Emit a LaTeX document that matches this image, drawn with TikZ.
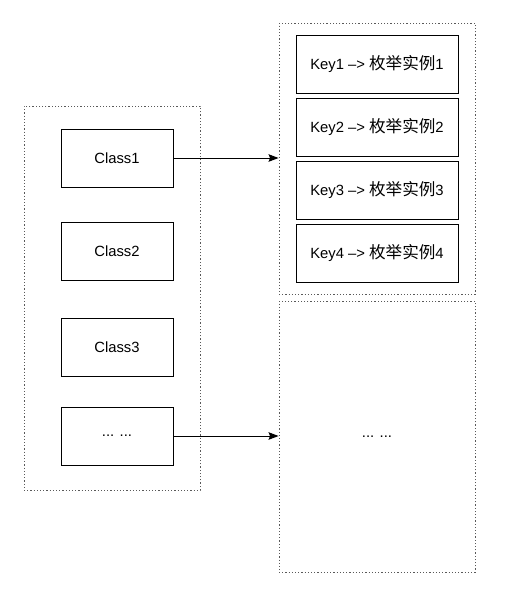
\documentclass[tikz,border=0pt]{standalone}
\usepackage{fontspec}
\setmainfont{Liberation Sans}
\newfontfamily\cjk{Noto Sans CJK SC}[Scale=1.12]
\usetikzlibrary{arrows.meta}
\begin{document}
\begin{tikzpicture}[x=1pt,y=-1pt,
  cont/.style={draw=black!65,line width=0.9pt,dash pattern=on 1.2pt off 2pt,minimum width=#1,inner sep=0pt},
  box/.style={draw=black,line width=1pt,minimum width=#1,minimum height=58pt,inner sep=0pt,font=\fontsize{14.8}{17}\selectfont},
  arr/.style={line width=1pt,-{Stealth[length=10pt,width=7.5pt,inset=1.5pt]}}]
\useasboundingbox[fill=white] (0,0) rectangle (506,592);
\node[cont=196pt,minimum height=271pt] (rtop) at (377,158.5) {};
\node[cont=196pt,minimum height=271pt,font=\fontsize{14.8}{17}\selectfont] (rbot) at (377,436.5) {... ...};
\node[cont=176pt,minimum height=384pt] (left) at (112,298) {};
\node[box=112pt] (c1) at (117,158) {Class1};
\node[box=112pt] (c2) at (117,251) {Class2};
\node[box=112pt] (c3) at (117,347) {Class3};
\node[box=112pt] (cd) at (117,436) {... ...};
\node[box=162pt] (k1) at (377,64) {Key1 –> {\cjk 枚举实例}1};
\node[box=162pt] (k2) at (377,127) {Key2 –> {\cjk 枚举实例}2};
\node[box=162pt] (k3) at (377,190) {Key3 –> {\cjk 枚举实例}3};
\node[box=162pt] (k4) at (377,253) {Key4 –> {\cjk 枚举实例}4};
\draw[arr] (c1.east) -- (c1.east -| rtop.west);
\draw[arr] (cd.east) -- (cd.east -| rbot.west);
\end{tikzpicture}
\end{document}
